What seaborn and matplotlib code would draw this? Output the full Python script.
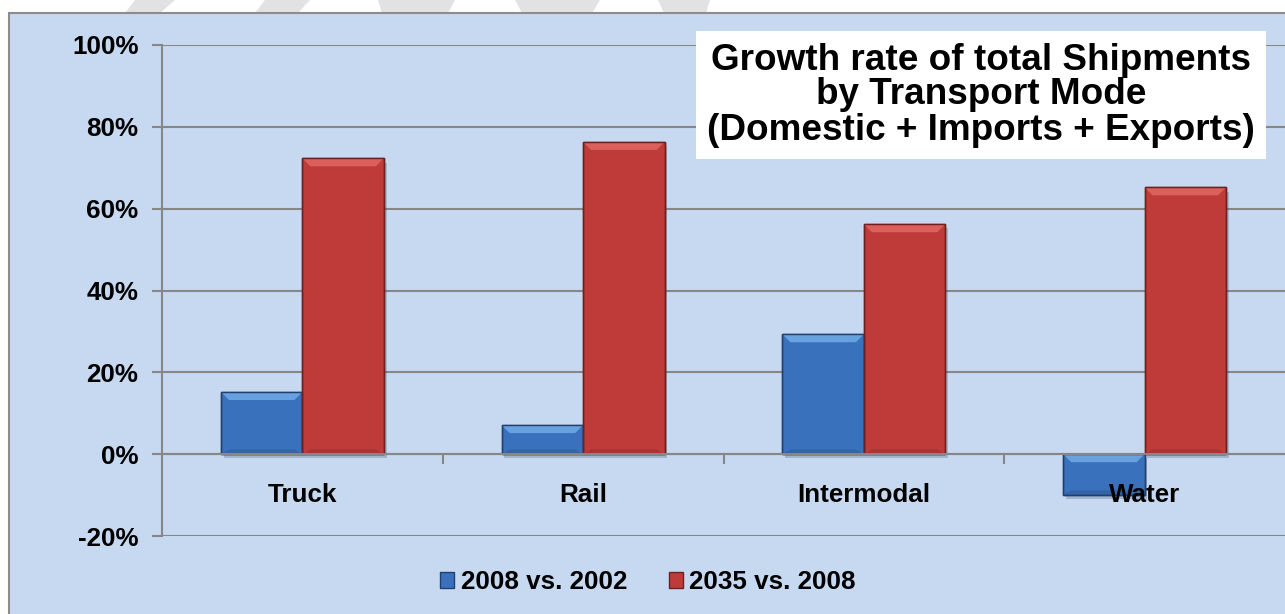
import numpy as np
import pandas as pd
import matplotlib
matplotlib.use('Agg')
import matplotlib.pyplot as plt
import matplotlib.patheffects as pe
from matplotlib.patches import Rectangle, Polygon
from matplotlib.ticker import FixedLocator
import seaborn as sns

# data
modes = ['Truck', 'Rail', 'Intermodal', 'Water']
periods = ['2008 vs. 2002', '2035 vs. 2008']
growth_2008_vs_2002 = [15.2, 7.1, 29.3, -10.0]
growth_2035_vs_2008 = [72.3, 76.3, 56.2, 65.2]
y_ticks = [-20, 0, 20, 40, 60, 80, 100]

df = pd.DataFrame({
    'mode': modes * 2,
    'growth': growth_2008_vs_2002 + growth_2035_vs_2008,
    'period': [periods[0]] * len(modes) + [periods[1]] * len(modes),
})

sns.set_theme(style='white')
plt.rcParams['font.family'] = ['Liberation Sans', 'DejaVu Sans']
plt.rcParams['text.color'] = 'black'

bg = '#C6D9F1'
grid_col = '#878787'
colors = ['#3A71BC', '#BE3B39']
edges = ['#22406E', '#6E1F1E']
lights = ['#7DB6F0', '#E8706C']
fs = 18.7

W, H = 1285, 614
fig = plt.figure(figsize=(12.85, 6.14), dpi=100)
fig.patch.set_facecolor('white')

# faint watermark pieces peeking above the chart area
for pts in [[(125, 13), (160, 13), (175, 0), (135, 0)],
            [(255, 13), (298, 13), (310, 0), (265, 0)],
            [(382, 13), (448, 13), (455, 0), (378, 0)],
            [(522, 13), (592, 13), (600, 0), (515, 0)],
            [(664, 13), (706, 13), (710, 0), (658, 0)]]:
    fig.patches.append(Polygon([(x / W, 1 - y / H) for x, y in pts], closed=True,
                               transform=fig.transFigure, facecolor='#E2E2E2',
                               edgecolor='none', zorder=-2))

# chart area
fig.patches.append(Rectangle((9 / W, -0.01), 1.0, 1 - 13 / H + 0.01, transform=fig.transFigure,
                             facecolor=bg, edgecolor='#8C8C8C', linewidth=1.5, zorder=-1))

ax = fig.add_axes([162 / W, 1 - 536 / H, 1 - 162 / W, (536 - 45) / H])
ax.set_facecolor(bg)

sns.barplot(data=df, x='mode', y='growth', hue='period', order=modes, hue_order=periods,
            palette=colors, saturation=1, width=0.58, errorbar=None, legend=False, ax=ax)

ax.set_xlim(-0.5, len(modes) - 0.5)
ax.set_ylim(-20, 100)

# bevel depth of ~8 px, converted to data units
ax_w_px = (1 - 162 / W) * W
ax_h_px = (536 - 45)
dx = 8 * len(modes) / ax_w_px
dy = 8 * 120 / ax_h_px

n = len(modes)
for i, bar in enumerate(list(ax.patches[:2 * n])):
    k = i // n
    bar.set_edgecolor(edges[k])
    bar.set_linewidth(1.0)
    bar.set_zorder(2)
    bar.set_path_effects([pe.SimplePatchShadow(offset=(2, -3), shadow_rgbFace='#3A4A60', alpha=0.25),
                          pe.Normal()])
    x0 = bar.get_x()
    x1 = x0 + bar.get_width()
    y0 = bar.get_y()
    h = bar.get_height()
    top = max(y0, y0 + h)
    bot = min(y0, y0 + h)
    ax.add_patch(Polygon([(x0, top), (x1, top), (x1 - dx, top - dy), (x0 + dx, top - dy)],
                         closed=True, facecolor=lights[k], edgecolor='none', alpha=0.7, zorder=2.1))
    ax.add_patch(Polygon([(x0, bot), (x1, bot), (x1 - dx, bot + dy * 0.6), (x0 + dx, bot + dy * 0.6)],
                         closed=True, facecolor=edges[k], edgecolor='none', alpha=0.25, zorder=2.1))
    ax.add_patch(Rectangle((x0, bot), x1 - x0, top - bot, facecolor='none',
                           edgecolor=edges[k], linewidth=1.0, zorder=2.2))

ax.set_yticks(y_ticks)
ax.set_yticklabels([f'{t}%' for t in y_ticks])
ax.set_xlabel('')
ax.set_ylabel('')

for s in ['top', 'right']:
    ax.spines[s].set_visible(False)
ax.spines['left'].set_color(grid_col)
ax.spines['left'].set_linewidth(1.5)
ax.spines['bottom'].set_position(('data', 0))
ax.spines['bottom'].set_color(grid_col)
ax.spines['bottom'].set_linewidth(1.5)

ax.yaxis.grid(True, color=grid_col, linewidth=1.5)
ax.set_axisbelow(True)
ax.xaxis.set_zorder(3)

ax.tick_params(axis='y', left=True, length=7, width=1.5, color=grid_col, pad=10,
               labelsize=fs, labelcolor='black')
ax.tick_params(axis='x', which='major', bottom=True, length=0, pad=21,
               labelsize=fs, labelcolor='black')
ax.xaxis.set_minor_locator(FixedLocator([0.5, 1.5, 2.5]))
ax.tick_params(axis='x', which='minor', bottom=True, length=7, width=1.5, color=grid_col)
for lab in ax.get_xticklabels() + ax.get_yticklabels():
    lab.set_fontweight('bold')

# title box
fig.text(981 / W, 1 - 95 / H,
         'Growth rate of total Shipments\nby Transport Mode\n(Domestic + Imports + Exports)',
         ha='center', va='center', fontsize=26.6, fontweight='bold', linespacing=1.0,
         color='black',
         bbox=dict(facecolor='white', edgecolor='none', boxstyle='square,pad=0.3'))

# legend
handles = [Rectangle((0, 0), 1, 1, facecolor=c, edgecolor=e, linewidth=1) for c, e in zip(colors, edges)]
fig.legend(handles, periods, loc='center', bbox_to_anchor=(648 / W, 1 - 582 / H), ncol=2,
           frameon=False, prop={'size': fs, 'weight': 'bold'}, handlelength=0.55,
           handleheight=0.55, handletextpad=0.25, columnspacing=1.6, labelcolor='black')

fig.savefig('out.png', dpi=100, facecolor=fig.get_facecolor())
